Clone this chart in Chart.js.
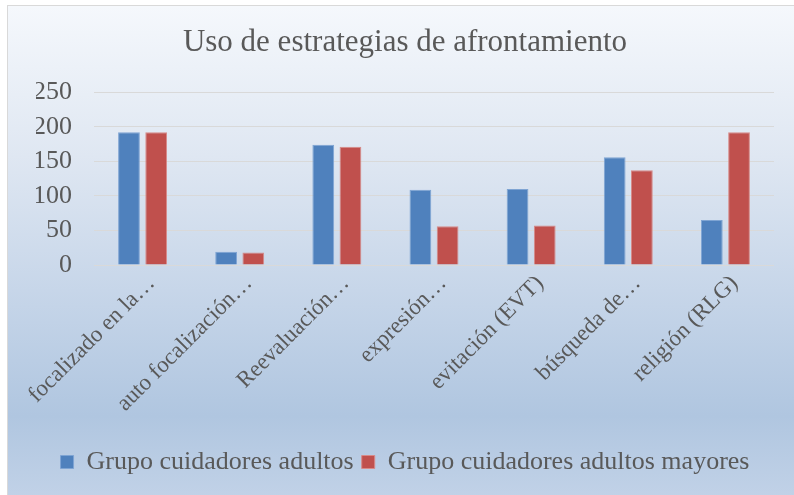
<!DOCTYPE html>
<html>
<head>
<meta charset="utf-8">
<script src="https://cdn.jsdelivr.net/npm/chart.js@4.4.0/dist/chart.umd.min.js"></script>
<style>
  body { margin: 0; background: #fff; }
  #box {
    position: absolute; left: 7px; top: 5px;
    width: 800px; height: 500px;
    border: 1px solid #d9d9d9;
    background: linear-gradient(to bottom, #f5f8fc 0%, #dfe7f2 30%, #c4d4e8 60%, #b0c6e0 82%, #c3d3e8 100%);
  }
</style>
</head>
<body>
<div id="box"><canvas id="chart1" width="787" height="490"></canvas></div>
<script>
const labels = [
  'focalizado en la…',
  'auto focalización…',
  'Reevaluación…',
  'expresión…',
  'evitación (EVT)',
  'búsqueda de…',
  'religión (RLG)'
];
const adultos = [192, 19, 174, 109, 110, 156, 65];
const mayores = [192, 18, 171, 56, 57, 137, 192];
const yTicks = [0, 50, 100, 150, 200, 250];

const serif = "'Liberation Serif', serif";
const grey = '#595959';

// nudge the rotated category labels a little right/up, like Excel places them
const labelShift = {
  id: 'labelShift',
  beforeDraw: function(chart) {
    const items = chart.scales.x.getLabelItems();
    items.forEach(function(it) {
      if (!it._moved) {
        it.options.translation[0] += 9;
        it.options.translation[1] -= 3;
        it._moved = true;
      }
    });
  }
};

const data = {
  labels: labels,
  datasets: [{
    label: 'Grupo cuidadores adultos',
    data: adultos,
    backgroundColor: '#4f81bd',
    borderColor: '#7ea4d3',
    borderWidth: 1,
    categoryPercentage: 0.56,
    barPercentage: 0.8
  }, {
    label: 'Grupo cuidadores adultos mayores',
    data: mayores,
    backgroundColor: '#c0504d',
    borderColor: '#d78a88',
    borderWidth: 1,
    categoryPercentage: 0.56,
    barPercentage: 0.8
  }]
};

const config = {
  type: 'bar',
  data: data,
  plugins: [labelShift],
  options: {
    responsive: false,
    animation: false,
    layout: {
      padding: { left: 28, right: 21, top: 0, bottom: 11 }
    },
    plugins: {
      title: {
        display: true,
        text: 'Uso de estrategias de afrontamiento',
        color: grey,
        font: { family: serif, size: 31, weight: 'normal' },
        padding: { top: 18, bottom: 31 }
      },
      legend: {
        position: 'bottom',
        labels: {
          color: grey,
          font: { family: serif, size: 26 },
          boxWidth: 13,
          boxHeight: 13,
          padding: 8
        }
      },
      tooltip: { enabled: false }
    },
    scales: {
      x: {
        grid: { display: false },
        border: { display: false },
        ticks: {
          color: grey,
          font: { family: serif, size: 23 },
          minRotation: 45,
          maxRotation: 45,
          autoSkip: false,
          padding: 0
        },
        afterFit: function(scale) { scale.height = 176; }
      },
      y: {
        min: 0,
        max: 250,
        afterBuildTicks: function(scale) {
          scale.ticks = yTicks.map(function(v) { return { value: v }; });
        },
        grid: { color: '#d9d9d9', lineWidth: 1, drawTicks: false },
        border: { display: false },
        ticks: {
          color: grey,
          font: { family: serif, size: 26 },
          padding: 22
        },
        afterFit: function(scale) { scale.width = 58; }
      }
    }
  }
};

var myChart = new Chart(
  document.getElementById('chart1'),
  config
);
</script>
</body>
</html>
